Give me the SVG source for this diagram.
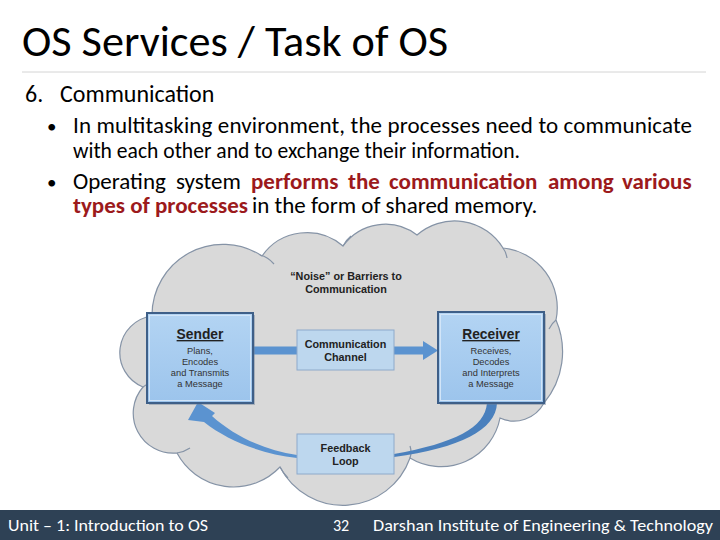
<svg xmlns="http://www.w3.org/2000/svg" width="720" height="540" viewBox="0 0 720 540">
<defs>
<style>
.sl{font-family:Carlito,'Liberation Sans Narrow','Liberation Sans',Arial,sans-serif;fill:#000}
.red{fill:#9c1a1c;font-weight:bold}
.ft{font-family:Carlito,'Liberation Sans Narrow','Liberation Sans',Arial,sans-serif;fill:#fff;font-size:16px}
.dg{font-family:'Liberation Sans',Arial,sans-serif;fill:#222;text-anchor:middle}
.hd{font-size:10.8px;font-weight:bold}
.ttl{font-size:13.8px;font-weight:bold;text-decoration:underline}
.sm{font-size:9.3px;fill:#333}
.cloud{fill:#d9d9d9;stroke:#8593a6;stroke-width:1.2}
.crease{fill:none;stroke:#8593a6;stroke-width:1.2}
.main{fill:url(#gMain);stroke:#3e5f88;stroke-width:2}
.hl{fill:none;stroke:#d2e5f8;stroke-width:1}
.shadow{fill:#6d7f95;opacity:0.45}
.sub{fill:#bdd7ee;stroke:#8eaacb;stroke-width:1}
.arr{fill:#5b93d0}
.fb{fill:#4a80bd}
</style>
<linearGradient id="gMain" x1="0" y1="0" x2="0" y2="1">
<stop offset="0" stop-color="#b3d4f3"/>
<stop offset="1" stop-color="#9cc4ec"/>
</linearGradient>
</defs>
<rect width="720" height="540" fill="#fff"/>

<text class="sl" x="22" y="56" font-size="44" textLength="426" lengthAdjust="spacingAndGlyphs">OS Services / Task of OS</text>
<line x1="22" y1="72" x2="706" y2="72" stroke="#d4d4d4" stroke-width="1"/>

<text class="sl" font-size="24"><tspan x="25" y="102">6.</tspan><tspan x="60" y="102">Communication</tspan></text>

<text class="sl" x="47" y="133" font-size="19">•</text>
<text class="sl" x="73" y="133" font-size="23" textLength="619" lengthAdjust="spacing">In multitasking environment, the processes need to communicate</text>
<text class="sl" x="73" y="158" font-size="23" textLength="447" lengthAdjust="spacingAndGlyphs">with each other and to exchange their information.</text>

<text class="sl" font-size="23"><tspan x="47" y="189" font-size="19">•</tspan><tspan x="73" y="189">Operating</tspan><tspan x="176" y="189">system</tspan><tspan class="red" x="251" y="189">performs</tspan><tspan class="red" x="348" y="189">the</tspan><tspan class="red" x="389" y="189">communication</tspan><tspan class="red" x="548" y="189">among</tspan><tspan class="red" x="622" y="189">various</tspan><tspan class="red" x="73" y="213">types of processes</tspan><tspan x="252" y="213">in the form of shared memory.</tspan></text>

<g id="cloud">
<path class="cloud" d="M 143 387 A 37 37 0 0 1 152 316 A 71 71 0 0 1 262 256 A 55 55 0 0 1 343 246 A 52 52 0 0 1 417 235 A 57 57 0 0 1 503 248 A 60 60 0 0 1 556 320 A 80 80 0 0 1 544 403 A 34 34 0 0 1 500 418 A 60 60 0 0 1 410 458 A 71 71 0 0 1 280 467 A 64 64 0 0 1 177 453 A 40 40 0 0 1 143 387 Z"/>
<path class="crease" d="M 260 255 Q 268 257 274 264 M 343 246 Q 346 240 351 236 M 503 248 Q 506 252 507 258 M 556 320 Q 552 323 549 329 M 410 458 Q 412 452 410 446 M 280 467 Q 283 473 288 478 M 177 453 Q 184 452 190 448 M 143 387 Q 147 385 150 381"/>
</g>

<g id="connectors">
<rect class="arr" x="253" y="346.5" width="44" height="8"/>
<rect class="arr" x="394" y="346.5" width="30" height="8"/>
<polygon class="arr" points="423,341 438,350.5 423,360"/>
<path class="fb" d="M 497 403 C 496 430 460 448 394 457 L 394 454 C 455 443 485 428 487 403 Z"/>
<path class="arr" d="M 297 458 C 262 454 228 441 204 422 L 188 420 L 198 402 L 215 413 L 212 416 C 234 436 264 450 297 455 Z"/>
</g>

<g id="sender">
<rect class="shadow" x="149" y="315" width="106" height="90"/>
<rect class="main" x="147" y="313" width="106" height="90"/>
<rect class="hl" x="149.5" y="315.5" width="101" height="85"/>
<text class="dg ttl" x="200" y="339">Sender</text>
<text class="dg sm" x="200" y="354">Plans,</text>
<text class="dg sm" x="200" y="365">Encodes</text>
<text class="dg sm" x="200" y="376">and Transmits</text>
<text class="dg sm" x="200" y="387">a Message</text>
</g>

<g id="receiver">
<rect class="shadow" x="440" y="314" width="106" height="91"/>
<rect class="main" x="438" y="312" width="106" height="91"/>
<rect class="hl" x="440.5" y="314.5" width="101" height="86"/>
<text class="dg ttl" x="491" y="339">Receiver</text>
<text class="dg sm" x="491" y="354">Receives,</text>
<text class="dg sm" x="491" y="365">Decodes</text>
<text class="dg sm" x="491" y="376">and Interprets</text>
<text class="dg sm" x="491" y="387">a Message</text>
</g>

<g id="noise">
<text class="dg hd" x="346" y="280">“Noise” or Barriers to</text>
<text class="dg hd" x="346" y="293">Communication</text>
</g>

<g id="channel">
<rect class="sub" x="297" y="330" width="97" height="40"/>
<text class="dg hd" x="345.5" y="348">Communication</text>
<text class="dg hd" x="345.5" y="361">Channel</text>
</g>

<g id="feedback">
<rect class="sub" x="297" y="434" width="97" height="40"/>
<text class="dg hd" x="345.5" y="452">Feedback</text>
<text class="dg hd" x="345.5" y="465">Loop</text>
</g>

<rect x="0" y="510" width="720" height="30" fill="#2e4155"/>
<text class="ft" x="8" y="531" textLength="200" lengthAdjust="spacingAndGlyphs">Unit – 1: Introduction to OS</text>
<text class="ft" x="333" y="531" font-size="17">32</text>
<text class="ft" x="373" y="531" textLength="340" lengthAdjust="spacingAndGlyphs">Darshan Institute of Engineering &amp; Technology</text>
</svg>
